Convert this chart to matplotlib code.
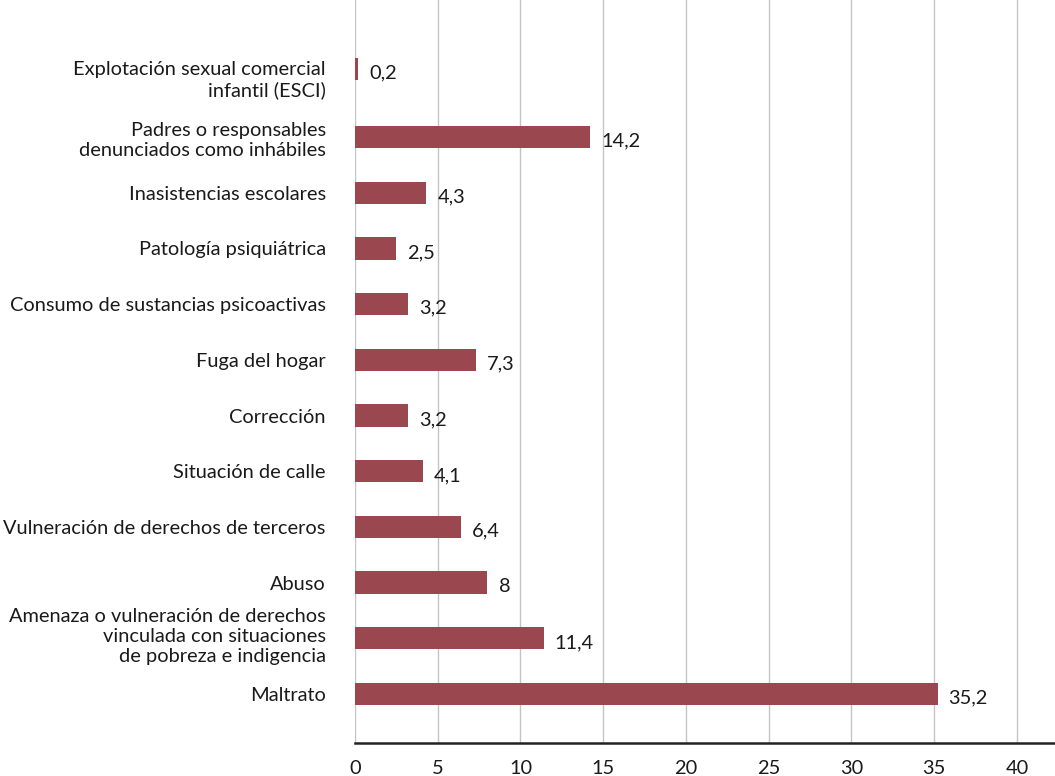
import matplotlib.pyplot as plt
import numpy as np

plt.rcParams['font.family'] = ['Lato', 'DejaVu Sans']

categorias = [
    'Maltrato',
    'Amenaza o vulneración de derechos\nvinculada con situaciones\nde pobreza e indigencia',
    'Abuso',
    'Vulneración de derechos de terceros',
    'Situación de calle',
    'Corrección',
    'Fuga del hogar',
    'Consumo de sustancias psicoactivas',
    'Patología psiquiátrica',
    'Inasistencias escolares',
    'Padres o responsables\ndenunciados como inhábiles',
    'Explotación sexual comercial\ninfantil (ESCI)',
]
valores = [35.2, 11.4, 8, 6.4, 4.1, 3.2, 7.3, 3.2, 2.5, 4.3, 14.2, 0.2]
etiquetas = ['35,2', '11,4', '8', '6,4', '4,1', '3,2', '7,3', '3,2', '2,5', '4,3', '14,2', '0,2']
ticks_x = [0, 5, 10, 15, 20, 25, 30, 35, 40]

color_barra = '#9a4750'
fs = 14.4

fig = plt.figure(figsize=(10.55, 7.76), dpi=100)
ax = fig.add_axes([0.3365, 0.0425, 0.6635, 0.9575])

# la barra de arriba queda un poco mas separada en el original
pos = np.arange(len(categorias), dtype=float)
pos_etiq = pos.copy()
pos[-1] += 0.22
pos_etiq[-1] += 0.08
pos_etiq[1] += 0.08

ax.barh(pos, valores, height=0.40, color=color_barra, zorder=3)

for p, v, t in zip(pos, valores, etiquetas):
    ax.annotate(t, (v, p), xytext=(8, -3), textcoords='offset points',
                ha='left', va='center', fontsize=fs, color='#1a1a1a')

ax.set_xlim(0, 42.3)
ax.set_ylim(-0.88, 12.46)
ax.set_yticks(pos_etiq)
ax.set_yticklabels(categorias, fontsize=fs, color='#1a1a1a', linespacing=1.22)
ax.set_xticks(ticks_x)
ax.set_xticklabels([str(t) for t in ticks_x], fontsize=fs, color='#1a1a1a')

ax.tick_params(axis='y', length=0, pad=21)
ax.tick_params(axis='x', length=0, pad=12)

ax.grid(axis='x', color='#c4c4c4', linewidth=1.0, zorder=0)
ax.grid(axis='y', visible=False)
for s in ['top', 'right', 'left']:
    ax.spines[s].set_visible(False)
ax.spines['bottom'].set_color('#222222')
ax.spines['bottom'].set_linewidth(1.8)

fig.savefig('out.png', dpi=100)
